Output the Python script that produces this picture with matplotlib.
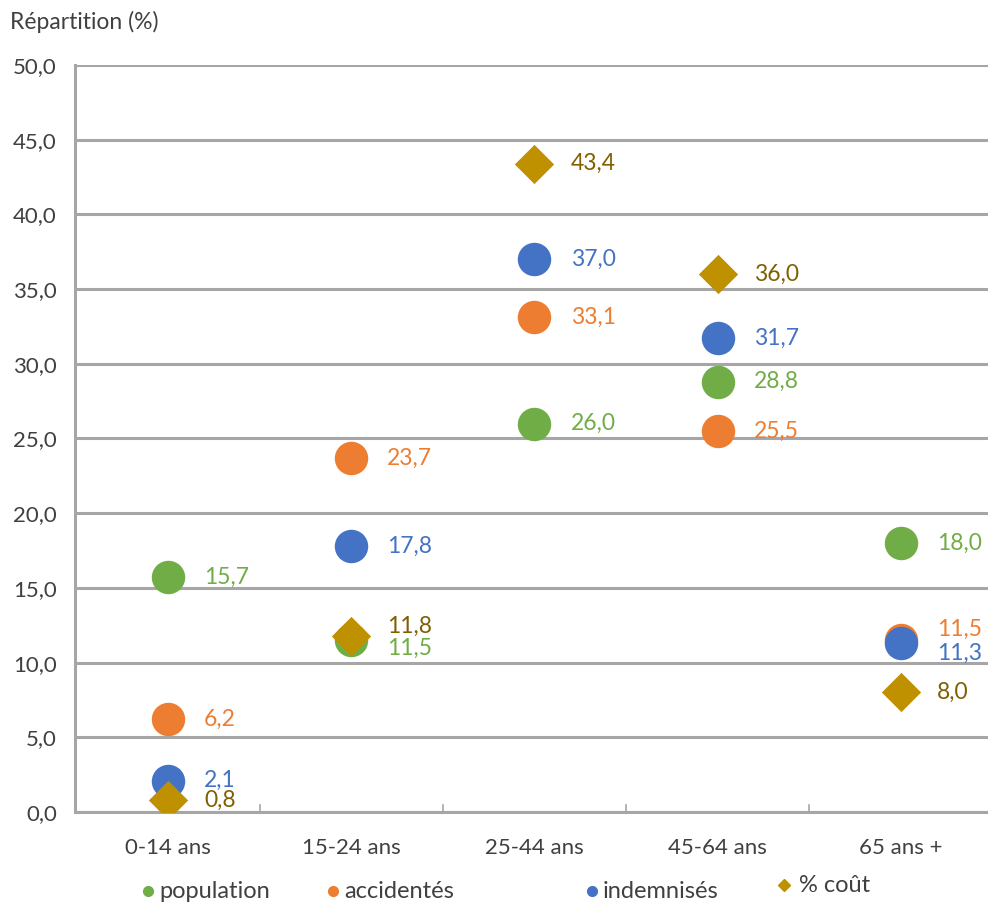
import matplotlib
matplotlib.use("Agg")
import matplotlib.pyplot as plt
from matplotlib.lines import Line2D

categories = ["0-14 ans", "15-24 ans", "25-44 ans", "45-64 ans", "65 ans +"]
population = [15.7, 11.5, 26.0, 28.8, 18.0]
accidentes = [6.2, 23.7, 33.1, 25.5, 11.5]
indemnises = [2.1, 17.8, 37.0, 31.7, 11.3]
cout = [0.8, 11.8, 43.4, 36.0, 8.0]
yticks = [0, 5, 10, 15, 20, 25, 30, 35, 40, 45, 50]

plt.rcParams['font.family'] = ['Lato', 'DejaVu Sans']

W, H = 988, 905
fig = plt.figure(figsize=(W/100, H/100), dpi=100)
ax = fig.add_axes([75/W, 1-812/H, 1-75/W, (812-65)/H])

green, orange, blue, gold = "#70AD47", "#ED7D31", "#4472C4", "#BF9000"
gold_txt = "#7F6000"
txt = "#404040"

x = list(range(len(categories)))
ax.scatter(x, population, s=580, color=green, zorder=3, linewidths=0)
ax.scatter(x, accidentes, s=580, color=orange, zorder=4, linewidths=0)
ax.scatter(x, indemnises, s=580, color=blue, zorder=5, linewidths=0)
ax.scatter(x, cout, s=400, marker="D", color=gold, zorder=6, linewidths=0)

def fmt(v):
    return f"{v:.1f}".replace(".", ",")

special = {("cout", 1): 7, ("pop", 1): -6, ("acc", 4): 8, ("ind", 4): -7}
series = [("pop", population, green), ("acc", accidentes, orange),
          ("ind", indemnises, blue), ("cout", cout, gold_txt)]
for key, vals, col in series:
    for i, v in enumerate(vals):
        dy = special.get((key, i), 0)
        ax.annotate(fmt(v), (i, v), xytext=(26, dy), textcoords="offset points",
                    ha="left", va="center", fontsize=16.5, color=col, zorder=7)

ax.set_xlim(-0.5075, 4.475)
ax.set_ylim(0, 50)
ax.set_yticks(yticks)
ax.set_yticklabels([fmt(v) for v in yticks], fontsize=16, color=txt)
ax.set_xticks(x)
ax.set_xticklabels(categories, fontsize=16, color=txt)
ax.tick_params(axis="both", length=0)
ax.tick_params(axis="x", pad=19)
ax.tick_params(axis="y", pad=13)
ax.grid(axis="y", color="#A6A6A6", linewidth=2.2, zorder=0)
ax.set_axisbelow(True)
for s in ["top", "right"]:
    ax.spines[s].set_visible(False)
ax.spines["left"].set_color("#A6A6A6")
ax.spines["left"].set_linewidth(2.2)
ax.spines["bottom"].set_color("#A6A6A6")
ax.spines["bottom"].set_linewidth(2.2)
for b in [0.5, 1.5, 2.5, 3.5]:
    ax.plot([b, b], [0, 0.45], color="#A6A6A6", linewidth=1.2, zorder=1, clip_on=False)

fig.text(10/W, 1-22/H, "Répartition (%)", fontsize=16.5, color=txt, va="center", ha="left")

leg = [(148, 891, "o", green, "population"), (333, 891, "o", orange, "accidentés"),
       (592, 891, "o", blue, "indemnisés"), (784, 885, "D", gold, "% coût")]
for px, py, m, c, lab in leg:
    fig.add_artist(Line2D([px/W], [1-py/H], marker=m, color=c, markersize=7 if m == "o" else 6,
                          linestyle="none", transform=fig.transFigure))
    fig.text((px + (11 if m == "o" else 15))/W, 1-py/H, lab, fontsize=17, color=txt,
             va="center", ha="left")

fig.savefig("out.png", dpi=100)
